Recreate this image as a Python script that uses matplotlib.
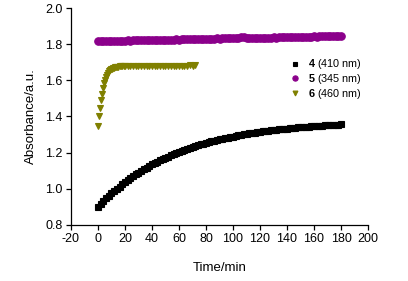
import matplotlib
matplotlib.use("Agg")
import matplotlib.pyplot as plt

plt.rcParams['font.family'] = ['Liberation Sans', 'DejaVu Sans']
plt.rcParams['mathtext.fontset'] = 'custom'
plt.rcParams['mathtext.rm'] = 'Liberation Sans'
plt.rcParams['mathtext.bf'] = 'Liberation Sans:bold'
plt.rcParams['axes.unicode_minus'] = False

# compound 4 (410 nm), every 2 min
t4 = list(range(0, 181, 2))
a4 = [0.900, 0.916, 0.931, 0.946, 0.960, 0.974, 0.987, 1.000, 1.012, 1.024,
      1.036, 1.047, 1.058, 1.069, 1.079, 1.089, 1.098, 1.108, 1.117, 1.125,
      1.134, 1.142, 1.149, 1.157, 1.164, 1.171, 1.178, 1.185, 1.191, 1.197,
      1.203, 1.209, 1.215, 1.220, 1.225, 1.230, 1.235, 1.240, 1.245, 1.249,
      1.253, 1.258, 1.262, 1.265, 1.269, 1.273, 1.276, 1.280, 1.283, 1.286,
      1.289, 1.292, 1.295, 1.298, 1.301, 1.303, 1.306, 1.308, 1.311, 1.313,
      1.315, 1.317, 1.319, 1.321, 1.323, 1.325, 1.327, 1.329, 1.330, 1.332,
      1.333, 1.335, 1.336, 1.338, 1.339, 1.341, 1.342, 1.343, 1.344, 1.345,
      1.347, 1.348, 1.349, 1.350, 1.351, 1.352, 1.353, 1.354, 1.354, 1.355,
      1.356]

# compound 5 (345 nm), every 2 min
t5 = list(range(0, 181, 2))
a5 = [1.817, 1.816, 1.818, 1.817, 1.818, 1.819, 1.818, 1.819, 1.820, 1.819, 1.820,
      1.821, 1.820, 1.821, 1.822, 1.821, 1.822, 1.823, 1.822, 1.823, 1.824,
      1.823, 1.824, 1.825, 1.824, 1.825, 1.826, 1.825, 1.826, 1.827, 1.826,
      1.827, 1.828, 1.827, 1.828, 1.829, 1.828, 1.829, 1.830, 1.829, 1.830,
      1.831, 1.830, 1.831, 1.832, 1.831, 1.832, 1.833, 1.832, 1.833, 1.834,
      1.835, 1.837, 1.839, 1.838, 1.836, 1.835, 1.834, 1.835, 1.836, 1.835,
      1.836, 1.837, 1.836, 1.837, 1.838, 1.837, 1.838, 1.839, 1.838, 1.839,
      1.840, 1.839, 1.840, 1.841, 1.840, 1.841, 1.842, 1.841, 1.842, 1.843,
      1.842, 1.843, 1.844, 1.843, 1.844, 1.845, 1.846, 1.845, 1.846, 1.847]

# compound 6 (460 nm)
t6 = [0, 0.75, 1.5, 2.25, 3, 3.75, 4.5, 5.25, 6, 6.75, 7.5, 8.25, 9, 9.75,
      10.5, 11.25, 12, 12.75, 13.5, 14.25, 15, 16, 17, 18, 19, 20] + list(range(22, 73, 2))
a6 = [1.350, 1.402, 1.448, 1.490, 1.527, 1.558, 1.584, 1.603, 1.619, 1.632,
      1.642, 1.650, 1.656, 1.661, 1.665, 1.668, 1.670, 1.672, 1.674, 1.675,
      1.676, 1.677, 1.678, 1.678, 1.679, 1.679,
      1.679, 1.680, 1.679, 1.680, 1.679, 1.678, 1.679, 1.680, 1.679, 1.680,
      1.680, 1.681, 1.680, 1.681, 1.680, 1.681, 1.681, 1.682, 1.681, 1.682,
      1.682, 1.681, 1.682, 1.683, 1.682, 1.683]

labels = [r'$\bf{4}$ (410 nm)', r'$\bf{5}$ (345 nm)', r'$\bf{6}$ (460 nm)']

fig = plt.figure(figsize=(4.08, 2.81), dpi=100)
ax = fig.add_axes([0.174, 0.2, 0.728, 0.771])

ms = dict(markeredgewidth=0.8)
ax.plot(t4, a4, 's', color='black', markersize=4.8, label=labels[0], **ms)
ax.plot(t5, a5, 'o', color='#8B008B', markersize=5.4, label=labels[1], **ms)
ax.plot(t6, a6, 'v', color='#808000', markersize=5.0, label=labels[2], **ms)

ax.set_xlim(-20, 200)
ax.set_ylim(0.8, 2.0)
ax.set_xticks(range(-20, 201, 20))
ax.set_yticks([0.8, 1.0, 1.2, 1.4, 1.6, 1.8, 2.0])
ax.set_yticklabels(['0.8', '1.0', '1.2', '1.4', '1.6', '1.8', '2.0'])
ax.spines['top'].set_visible(False)
ax.spines['right'].set_visible(False)
for s in ['left', 'bottom']:
    ax.spines[s].set_linewidth(0.9)
ax.tick_params(direction='out', length=3.5, width=0.9, labelsize=9, pad=2.5)

ax.set_xlabel('Time/min', fontsize=9.5, labelpad=12)
ax.set_ylabel('Absorbance/a.u.', fontsize=9.5, labelpad=6)

ax.legend(loc='center left', bbox_to_anchor=(0.72, 0.673), frameon=False,
          fontsize=7.8, handlelength=0.8, handletextpad=0.8, labelspacing=0.05,
          borderpad=0, markerscale=0.7)

fig.savefig('out.png', dpi=100)
